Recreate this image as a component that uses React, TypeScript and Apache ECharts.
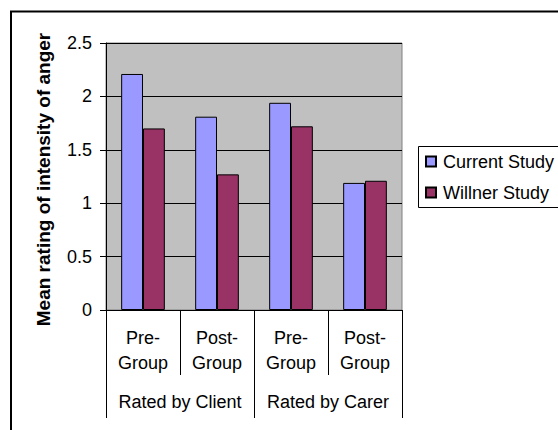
import React, { useEffect, useRef } from "react";
import * as echarts from "echarts";

const subCategories = ["Pre-\nGroup", "Post-\nGroup", "Pre-\nGroup", "Post-\nGroup"];
const groupCategories = ["Rated by Client", "Rated by Carer"];
const currentStudy = [2.21, 1.81, 1.94, 1.19];
const willnerStudy = [1.7, 1.27, 1.72, 1.21];
const seriesNames = ["Current Study", "Willner Study"];
const yTitle = "Mean rating of intensity of anger";

const FONT = 'Arial, "Liberation Sans", sans-serif';

export default function App() {
  const ref = useRef<HTMLDivElement>(null);
  useEffect(() => {
    if (!ref.current) return;
    const chart = echarts.init(ref.current, null, { renderer: "svg" });
    chart.setOption({
      animation: false,
      backgroundColor: "#ffffff",
      textStyle: { fontFamily: FONT },
      graphic: [
        {
          type: "rect",
          shape: { x: 11, y: 11.5, width: 700, height: 600 },
          style: { fill: "none", stroke: "#000", lineWidth: 2 },
          silent: true,
        },
        {
          type: "rect",
          shape: { x: 418.5, y: 146.5, width: 300, height: 61 },
          style: { fill: "none", stroke: "#000", lineWidth: 1 },
          silent: true,
        },
      ],
      legend: {
        orient: "vertical",
        left: 418,
        top: 146,
        data: seriesNames,
        icon: "rect",
        itemWidth: 10,
        itemHeight: 10,
        itemGap: 10,
        padding: [5, 0, 5, 7],
        textStyle: { fontSize: 18, color: "#000", lineHeight: 21, fontFamily: FONT, padding: [0, 0, 0, 2] },
      },
      grid: {
        left: 106,
        top: 43,
        width: 296,
        height: 267,
        show: true,
        backgroundColor: "#C0C0C0",
        borderColor: "#808080",
        borderWidth: 1,
      },
      xAxis: [
        {
          type: "category",
          data: subCategories,
          position: "bottom",
          axisLine: { show: true, lineStyle: { color: "#000", width: 1 } },
          axisTick: { show: true, interval: 0, length: 65, lineStyle: { color: "#000" } },
          axisLabel: { interval: 0, fontSize: 18, lineHeight: 25, color: "#000", margin: 15, fontFamily: FONT },
        },
        {
          type: "category",
          data: groupCategories,
          position: "bottom",
          offset: 0,
          axisLine: { show: false },
          axisTick: { show: true, interval: 0, length: 108, lineStyle: { color: "#000" } },
          axisLabel: { interval: 0, fontSize: 18, lineHeight: 25, color: "#000", margin: 79, fontFamily: FONT },
        },
      ],
      yAxis: {
        type: "value",
        min: 0,
        max: 2.5,
        interval: 0.5,
        name: yTitle,
        nameLocation: "middle",
        nameGap: 53,
        nameTextStyle: { fontSize: 19, fontWeight: "bold", color: "#000", fontFamily: FONT, padding: [0, 0, 0, -6] },
        axisLine: { show: true, lineStyle: { color: "#000", width: 1 } },
        axisTick: { show: true, length: 6, lineStyle: { color: "#000" } },
        axisLabel: { fontSize: 18, color: "#000", margin: 14, fontFamily: FONT },
        splitLine: { show: true, lineStyle: { color: "#000", width: 1 } },
      },
      series: [
        {
          name: seriesNames[0],
          type: "bar",
          data: currentStudy,
          barGap: "0%",
          barCategoryGap: "41%",
          itemStyle: { color: "#9999FF", borderColor: "#000", borderWidth: 1 },
        },
        {
          name: seriesNames[1],
          type: "bar",
          data: willnerStudy,
          barGap: "0%",
          barCategoryGap: "41%",
          itemStyle: { color: "#993366", borderColor: "#000", borderWidth: 1 },
        },
      ],
    });
    return () => chart.dispose();
  }, []);
  return (
    <div
      ref={ref}
      style={{ position: "fixed", left: 0, top: 0, width: 558, height: 430 }}
    />
  );
}
